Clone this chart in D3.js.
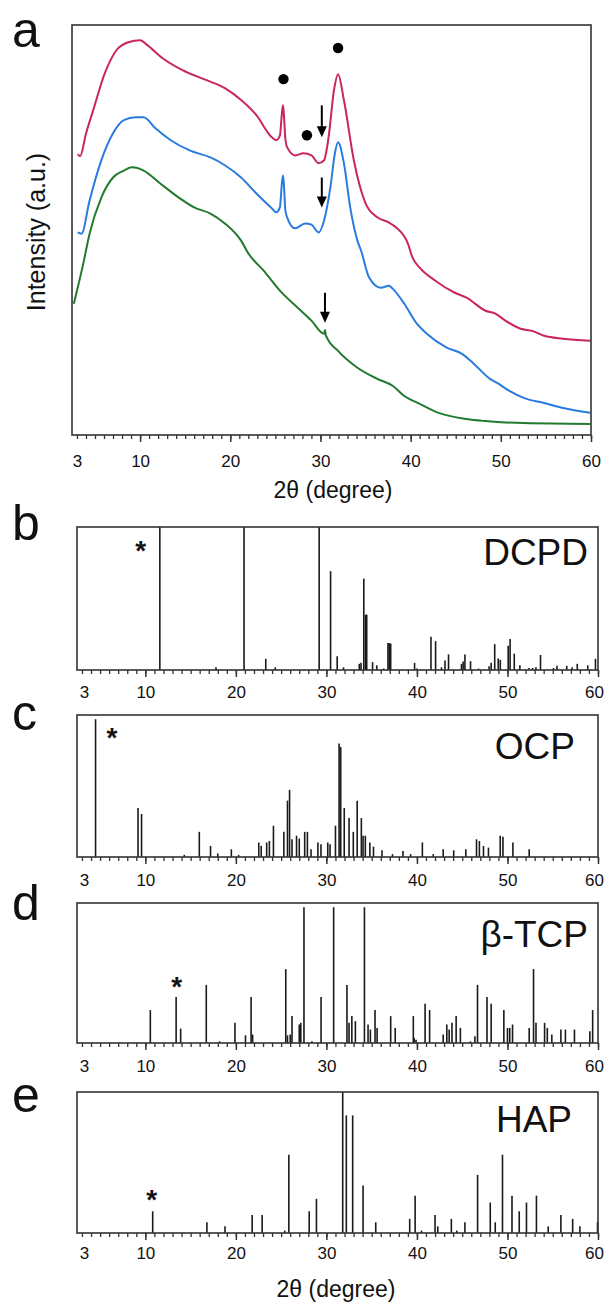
<!DOCTYPE html>
<html><head><meta charset="utf-8">
<script src="https://cdn.jsdelivr.net/npm/d3@7"></script>
<style>
body{margin:0;background:#fff}
svg{display:block}
text{font-family:"Liberation Sans",Arial,sans-serif;fill:#111}
</style>
</head><body>
<svg id="chart" width="606" height="1309"></svg>
<script>
// ---------------- DATA ----------------
const xTickLabels = [3, 10, 20, 30, 40, 50, 60];
const xMinorTicks = d3.range(3, 61, 1);
const xMajorTicks = [10, 20, 30, 40, 50, 60];

// Panel a: XRD traces, [2θ, relative intensity]
const traceRed = [[3.08,68.5],[3.35,68.0],[4.0,73.5],[4.8,79.2],[6.1,88.3],[7.4,93.9],[8.7,95.8],[10.0,96.3],[10.8,95.1],[12.5,91.9],[14.7,89.0],[17.3,86.6],[19.4,84.6],[21.2,81.7],[22.9,78.0],[24.6,72.6],[25.1,71.9],[25.5,73.0],[25.75,79.0],[25.85,80.4],[25.95,78.0],[26.1,72.5],[26.3,70.2],[27.2,68.2],[28.1,68.7],[29.0,68.2],[29.8,66.3],[30.4,67.0],[30.9,72.6],[31.5,84.1],[31.95,88.0],[32.6,81.7],[33.7,67.0],[35.0,56.5],[36.3,53.1],[37.6,51.8],[38.4,50.6],[39.7,46.7],[40.2,43.3],[41.0,40.8],[42.7,37.7],[44.9,34.7],[46.2,33.5],[48.3,30.3],[49.4,29.6],[50.5,27.9],[52.2,25.9],[53.5,25.4],[54.8,24.2],[56.9,23.5],[59.9,23.0]];
const traceBlue = [[3.08,49.4],[3.5,49.1],[4.4,57.2],[5.7,67.0],[7.0,73.6],[8.2,76.8],[9.5,77.5],[10.4,77.5],[11.7,74.8],[13.4,71.9],[15.5,69.4],[17.8,67.7],[19.4,65.8],[21.2,62.8],[22.9,58.9],[24.6,55.3],[25.1,54.3],[25.5,55.5],[25.75,62.0],[25.85,63.3],[25.95,61.0],[26.1,55.0],[26.3,53.1],[27.2,50.4],[28.3,51.6],[29.0,51.3],[29.8,49.4],[30.4,52.3],[31.1,60.4],[31.6,68.7],[31.95,71.4],[32.6,66.3],[33.3,55.5],[34.1,47.4],[34.5,45.0],[35.4,38.4],[36.7,35.9],[37.6,36.4],[38.0,35.7],[39.3,32.0],[40.6,27.4],[41.8,24.7],[44.0,21.3],[45.7,19.8],[47.0,17.4],[48.8,13.7],[49.6,12.7],[50.9,10.8],[52.6,9.0],[54.8,7.8],[56.9,6.6],[59.9,5.4]];
const traceGreen = [[2.65,32.0],[3.08,35.9],[3.7,41.8],[4.4,49.1],[5.7,57.9],[7.0,62.8],[8.2,64.5],[9.1,65.3],[10.4,64.5],[12.1,61.6],[14.3,57.9],[16.0,55.5],[17.8,54.0],[19.4,51.6],[21.2,47.4],[22.0,44.3],[23.7,40.1],[25.5,35.2],[27.6,30.8],[29.0,27.9],[30.4,24.7],[30.5,25.6],[30.6,24.3],[31.95,20.5],[34.1,16.4],[36.3,13.7],[38.0,12.0],[39.3,9.5],[41.0,7.6],[43.1,5.4],[46.2,3.9],[48.3,3.4],[52.6,2.9],[59.9,2.7]];
// markers: filled dots [2θ, intensity], arrows [2θ, top, bottom]
const dotMarks = [[25.9,86.8],[28.5,73.1],[31.95,94.4]];
const arrowMarks = [[30.15,80.4,72.6],[30.15,62.8,55.5],[30.5,34.7,27.4]];

// Reference patterns: [2θ, relative intensity]
const barsDCPD = [[11.6,100],[17.8,1.9],[20.9,100],[23.3,7.8],[24.35,1.9],[29.2,100],[30.46,69.1],[31.19,9.7],[31.89,1.9],[33.63,4.3],[33.82,5.0],[34.13,63.9],[34.32,38.7],[34.45,38.7],[35.1,5.5],[35.56,3.3],[36.33,1.0],[36.8,18.8],[36.95,18.8],[37.1,18.5],[39.74,5.0],[40.0,1.0],[41.55,23.3],[42.06,20.2],[42.71,1.9],[43.1,6.7],[43.49,10.9],[44.92,4.3],[45.1,6.0],[45.3,10.9],[45.92,6.2],[46.81,1.0],[47.97,2.6],[48.2,5.0],[48.59,18.1],[48.98,8.1],[49.21,7.1],[50.08,16.9],[50.29,21.6],[50.75,11.4],[51.37,3.3],[52.38,1.4],[52.77,1.4],[53.15,1.9],[53.65,10.5],[55.08,1.4],[55.47,2.9],[56.55,2.9],[57.13,1.9],[57.71,4.3],[58.87,3.3],[59.72,7.8]];
const barsOCP = [[4.5,97],[9.19,34.5],[9.58,30.3],[14.3,1.5],[15.96,17.7],[17.2,7.8],[18.0,2.5],[19.5,5.4],[20.3,1.5],[22.53,10.2],[22.8,7.8],[23.4,10.2],[23.7,11.3],[24.15,22],[25.3,17.7],[25.7,39.7],[25.93,47.3],[26.2,12.5],[26.7,15],[27.0,13],[27.6,17.7],[27.9,17.7],[28.3,5.4],[29.06,10.2],[29.4,9],[30.15,10.2],[30.4,9],[31.0,22],[31.4,80],[31.58,77.5],[31.97,34.5],[32.5,27.4],[32.97,17.7],[33.4,39.7],[33.86,27.4],[34.05,15],[34.3,15],[34.8,10.2],[35.2,7.3],[36.14,4.7],[37.3,2],[38.46,4.3],[39.3,2],[40.6,10.2],[41.8,2],[42.9,5.4],[44.06,4.7],[45.4,5.4],[46.58,12.5],[46.9,11.3],[47.35,7.8],[47.9,6.6],[49.2,15],[49.5,14.2],[50.6,10.2],[52.4,5.4]];
const barsTCP = [[10.55,23.5],[13.4,32.9],[13.9,10.3],[16.73,41.5],[18.2,1.2],[19.9,14.4],[21.06,5.5],[21.68,32.9],[21.85,6],[25.51,52.8],[25.7,5.5],[26.0,6],[26.2,19.2],[27.0,13.2],[27.17,14.4],[27.52,97],[28.4,1.2],[29.41,32.9],[30.8,97],[32.27,41.5],[32.5,14.4],[32.81,19.2],[33.2,15.6],[34.2,97],[34.6,13.2],[34.86,9.6],[35.37,23.5],[35.6,10.8],[37.1,19.2],[37.6,10.8],[39.6,19.2],[39.7,3.6],[39.9,2.4],[40.9,28],[41.4,23.5],[42.9,6],[43.3,13.2],[43.56,9.6],[43.87,14.4],[44.33,19.2],[44.8,10.8],[45.9,1.2],[46.4,4.8],[46.69,41.5],[47.74,32.9],[48.2,28],[49.6,23.5],[50.0,10.8],[50.25,10.8],[50.56,13.2],[52.4,10.8],[52.88,52.8],[53.15,14.4],[54.1,14.4],[54.4,10.8],[54.9,6],[55.9,9.6],[56.4,9.6],[57.4,9.6],[59.1,8.4],[59.41,23.5]];
const barsHAP = [[10.81,15.4],[16.8,7.6],[18.8,4.7],[21.8,12.8],[22.9,12.8],[25.4,1.7],[25.85,55.5],[28.1,15.4],[28.9,24.2],[31.8,100],[32.2,83.4],[32.9,83.4],[34.05,33.6],[35.45,7.6],[39.2,10],[39.8,26.5],[40.5,1.7],[42.0,12.8],[42.3,4.7],[43.8,10],[44.4,1.7],[45.3,7.6],[46.7,41.2],[48.1,21.6],[48.65,7.6],[49.45,55.5],[50.5,26.5],[51.3,15.4],[52.1,21.6],[53.2,26.5],[54.5,4.7],[55.9,12.8],[57.2,10],[58.0,4.7],[59.95,7.6]];

const panelLetters = ["a", "b", "c", "d", "e"];
const phaseNames = ["DCPD", "OCP", "β-TCP", "HAP"];
// asterisk marks [2θ, relative height]
const starMarks = [[9.5,88],[6.3,89],[13.45,45],[10.7,28]];
const xTitle = "2θ  (degree)";
const yTitle = "Intensity (a.u.)";

// ---------------- DRAW ----------------
const svg = d3.select("#chart");
const FRAME = "#333";

function drawAxis(g, x, bottom, labelBaseline, dx) {
  g.append("g").attr("transform", `translate(0,${bottom})`)
    .call(d3.axisBottom(x).tickValues(xMinorTicks).tickSize(4).tickFormat(""))
    .call(a => { a.select(".domain").remove(); a.selectAll("line").attr("stroke", FRAME).attr("stroke-width", 1.3); });
  g.append("g").attr("transform", `translate(0,${bottom})`)
    .call(d3.axisBottom(x).tickValues(xMajorTicks).tickSize(7).tickFormat(""))
    .call(a => { a.select(".domain").remove(); a.selectAll("line").attr("stroke", FRAME).attr("stroke-width", 1.5); });
  g.append("g").attr("transform", `translate(0,${bottom})`)
    .call(d3.axisBottom(x).tickValues(xTickLabels).tickSize(0).tickPadding(labelBaseline - bottom - 12).tickFormat(d3.format("d")))
    .call(a => {
      a.select(".domain").remove();
      a.selectAll("text").attr("font-size", 17).attr("fill", "#111")
        .attr("font-family", '"Liberation Sans",Arial,sans-serif')
        .attr("dx", d => d === 60 ? -dx : (d === 3 ? dx / 2 : 0));
    });
}

function frame(g, x0, x1, y0, y1) {
  g.append("rect").attr("x", x0).attr("y", y0).attr("width", x1 - x0).attr("height", y1 - y0)
    .attr("fill", "none").attr("stroke", FRAME).attr("stroke-width", 1.6);
}

// Panel a
{
  const L = 72, R = 591, T = 25, B = 435;
  const x = d3.scaleLinear().domain([2.45, 60]).range([L, R]);
  const y = d3.scaleLinear().domain([0, 100]).range([B, T]);
  const g = svg.append("g");
  const line = d3.line().x(d => x(d[0])).y(d => y(d[1])).curve(d3.curveMonotoneX);
  [[traceRed, "#c8265d"], [traceBlue, "#2a7be0"], [traceGreen, "#237a2e"]].forEach(([data, c]) => {
    g.append("path").datum(data).attr("d", line).attr("fill", "none").attr("stroke", c).attr("stroke-width", 2);
  });
  g.selectAll("circle.dot").data(dotMarks).join("circle").attr("class", "dot")
    .attr("cx", d => x(d[0])).attr("cy", d => y(d[1])).attr("r", 5.2).attr("fill", "#000");
  arrowMarks.forEach(d => {
    const ax = x(d[0]), yt = y(d[1]), yb = y(d[2]);
    g.append("line").attr("x1", ax).attr("x2", ax).attr("y1", yt).attr("y2", yb - 8).attr("stroke", "#000").attr("stroke-width", 2);
    g.append("path").attr("d", `M${ax - 5},${yb - 11} L${ax + 5},${yb - 11} L${ax},${yb} Z`).attr("fill", "#000");
  });
  frame(g, L, R, T, B);
  drawAxis(g, x, B, 467, 0);
  g.append("text").attr("x", 333).attr("y", 498).attr("text-anchor", "middle").attr("font-size", 23).text(xTitle);
  g.append("text").attr("transform", "translate(45,232) rotate(-90)").attr("text-anchor", "middle").attr("font-size", 25).text(yTitle);
  g.append("text").attr("x", 12).attr("y", 47).attr("font-size", 50).text(panelLetters[0]);
}

// Panels b-e
const barPanels = [
  { bars: barsDCPD, T: 527, B: 670, lab: 698, letterY: 540, nameX: 588, nameY: 565 },
  { bars: barsOCP,  T: 715, B: 857, lab: 886, letterY: 730, nameX: 575, nameY: 759 },
  { bars: barsTCP,  T: 903, B: 1043, lab: 1072, letterY: 920, nameX: 588, nameY: 947 },
  { bars: barsHAP,  T: 1092, B: 1233, lab: 1259, letterY: 1112, nameX: 572, nameY: 1132 }
];
barPanels.forEach((p, i) => {
  const L = 77, R = 598;
  const x = d3.scaleLinear().domain([2.45, 60]).range([L, R]);
  const y = d3.scaleLinear().domain([0, 100]).range([p.B, p.T]);
  const g = svg.append("g");
  g.selectAll("line.bar").data(p.bars).join("line").attr("class", "bar")
    .attr("x1", d => x(d[0])).attr("x2", d => x(d[0]))
    .attr("y1", y(0)).attr("y2", d => y(d[1]))
    .attr("stroke", "#1a1a1a").attr("stroke-width", 1.6);
  frame(g, L, R, p.T, p.B);
  drawAxis(g, x, p.B, p.lab, 4);
  const s = starMarks[i];
  g.append("text").attr("x", x(s[0])).attr("y", y(s[1]) + 0.57 * 28).attr("text-anchor", "middle")
    .attr("font-size", 28).attr("font-weight", "bold").text("*");
  g.append("text").attr("x", p.nameX).attr("y", p.nameY).attr("text-anchor", "end").attr("font-size", 37).text(phaseNames[i]);
  g.append("text").attr("x", 12).attr("y", p.letterY).attr("font-size", 50).text(panelLetters[i + 1]);
});
svg.append("text").attr("x", 336).attr("y", 1297).attr("text-anchor", "middle").attr("font-size", 23).text(xTitle);
</script>
</body></html>
